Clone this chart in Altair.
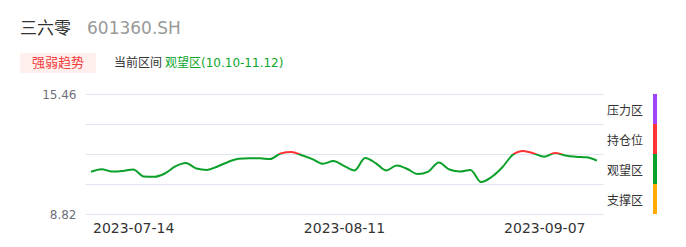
import altair as alt
import pandas as pd

# ---- data -------------------------------------------------------------
dates = [
    "2023-07-10", "2023-07-11", "2023-07-12", "2023-07-13", "2023-07-14",
    "2023-07-17", "2023-07-18", "2023-07-19", "2023-07-20", "2023-07-21",
    "2023-07-24", "2023-07-25", "2023-07-26", "2023-07-27", "2023-07-28",
    "2023-07-31", "2023-08-01", "2023-08-02", "2023-08-03", "2023-08-04",
    "2023-08-07", "2023-08-08", "2023-08-09", "2023-08-10", "2023-08-11",
    "2023-08-14", "2023-08-15", "2023-08-16", "2023-08-17", "2023-08-18",
    "2023-08-21", "2023-08-22", "2023-08-23", "2023-08-24", "2023-08-25",
    "2023-08-28", "2023-08-29", "2023-08-30", "2023-08-31", "2023-09-01",
    "2023-09-04", "2023-09-05", "2023-09-06", "2023-09-07", "2023-09-08",
    "2023-09-11", "2023-09-12", "2023-09-13", "2023-09-14",
]
values = [
    11.16, 11.30, 11.17, 11.20, 11.28,
    10.90, 10.88, 11.06, 11.45, 11.64,
    11.34, 11.26, 11.45, 11.70, 11.88,
    11.90, 11.90, 11.86, 12.17, 12.25,
    12.07, 11.86, 11.60, 11.75, 11.48,
    11.23, 11.92, 11.64, 11.23, 11.50,
    11.31, 11.03, 11.17, 11.67, 11.28,
    11.17, 11.26, 10.59, 10.87, 11.39,
    12.09, 12.31, 12.17, 11.99, 12.20,
    12.06, 11.99, 11.96, 11.77,
]
x_labels = ["2023-07-14", "2023-08-11", "2023-09-07"]

zone_bounds = [8.82, 10.48, 12.14, 13.80, 15.46]
zone_names = ["支撑区", "观望区", "持仓位", "压力区"]
zone_colors = ["#ffaa00", "#0aa02a", "#ff3333", "#a044ff"]

stock_name = "三六零"
stock_code = "601360.SH"
badge_text = "强弱趋势"
range_label = "当前区间"
range_value = "观望区(10.10-11.12)"

# ---- derived tables ---------------------------------------------------
df = pd.DataFrame({"date": dates, "v": values})
zones = pd.DataFrame({
    "lo": zone_bounds[:-1],
    "hi": zone_bounds[1:],
    "mid": [(a + b) / 2 for a, b in zip(zone_bounds[:-1], zone_bounds[1:])],
    "name": zone_names,
    "color": zone_colors,
})

# line colour by value band: gradient stops over the line's bounding box
vmax, vmin = max(values), min(values)
def off(v):
    return (vmax - v) / (vmax - vmin)
stops = []
for lo, hi, c in sorted(zip(zone_bounds[:-1], zone_bounds[1:], zone_colors), key=lambda t: -t[0]):
    if hi <= vmin or lo >= vmax:
        continue
    stops.append(alt.GradientStop(offset=off(min(hi, vmax)), color=c))
    stops.append(alt.GradientStop(offset=off(max(lo, vmin)), color=c))

FONT = "DejaVu Sans, Noto Sans CJK SC"
yscale = alt.Scale(domain=[zone_bounds[0], zone_bounds[-1]], nice=False, zero=False)
yaxis = alt.Axis(values=zone_bounds, title=None, ticks=False, domain=False,
                 grid=True, gridColor="#e0e6f1", gridWidth=1, gridOpacity=1,
                 labelExpr="(datum.index == 0 || datum.index == 1) ? format(datum.value, '.2f') : ''",
                 labelFontSize=12, labelColor="#6e7079", labelPadding=9, labelFont=FONT)

xenc = alt.X("date:O", scale=alt.Scale(type="point", padding=0.57),
             axis=alt.Axis(values=x_labels, labelAngle=0, title=None, ticks=False,
                           domain=False, grid=False, labelFontSize=14,
                           labelColor="#333333", labelPadding=7, labelFont=FONT))

line = alt.Chart(df).mark_line(
    interpolate="monotone", strokeWidth=2,
    color=alt.Gradient(gradient="linear", stops=stops, x1=0, x2=0, y1=0, y2=1),
).encode(x=xenc, y=alt.Y("v:Q", scale=yscale, axis=yaxis))

legend_bar = alt.Chart(zones).mark_rect().encode(
    x=alt.value(568), x2=alt.value(572),
    y=alt.Y("lo:Q", scale=yscale, axis=yaxis), y2="hi:Q",
    color=alt.Color("color:N", scale=None),
)
legend_txt = alt.Chart(zones).mark_text(align="right", baseline="middle", fontSize=12, dy=2,
                                        color="#333333", font=FONT).encode(
    x=alt.value(558), y=alt.Y("mid:Q", scale=yscale, axis=yaxis), text="name:N")

def label(txt, x, y, size, color, align="left"):
    return alt.Chart(pd.DataFrame({"t": [txt]})).mark_text(
        align=align, baseline="middle", fontSize=size, color=color, font=FONT
    ).encode(x=alt.value(x), y=alt.value(y), text="t:N")

badge_bg = alt.Chart(pd.DataFrame({"t": [badge_text]})).mark_rect(color="#fff0ed").encode(
    x=alt.value(-65), x2=alt.value(11), y=alt.value(-41), y2=alt.value(-21))

chart = alt.layer(
    line, legend_bar, legend_txt, badge_bg,
    label(stock_name, -65, -65, 17, "#333333"),
    label(stock_code, 2, -65, 17, "#999999"),
    label(badge_text, -27, -31, 13, "#f23c3c", align="center"),
    label(range_label, 29, -31, 12, "#333333"),
    label(range_value, 80, -31, 12, "#0ea52b"),
).properties(
    width=518, height=120,
    autosize=alt.AutoSizeParams(type="none"),
    padding={"left": 85, "top": 94, "right": 83, "bottom": 33},
    background="white",
).configure_view(strokeWidth=0)

chart.save("out.html", embed_options={"renderer": "svg", "actions": False})
